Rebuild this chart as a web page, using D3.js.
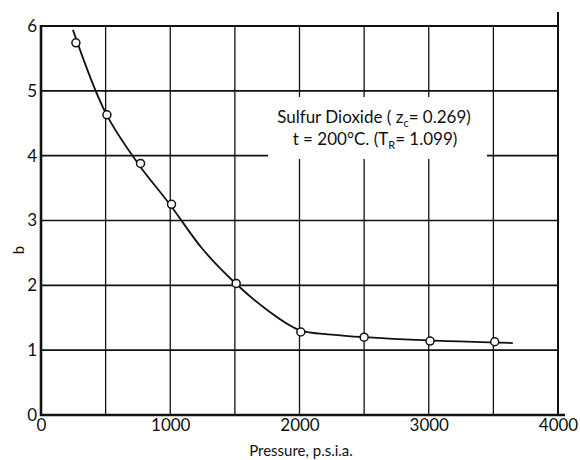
<!DOCTYPE html>
<html>
<head>
<meta charset="utf-8">
<script src="https://cdn.jsdelivr.net/npm/d3@7"></script>
<style>
  body { margin: 0; background: #fff; }
  text { font-family: Lato, "DejaVu Sans", sans-serif; fill: #111; }
</style>
</head>
<body>
<div id="chart"></div>
<script>
// measured points, Sulfur Dioxide at 200 C
const pressure = [270, 510, 770, 1010, 1510, 2010, 2500, 3010, 3510];
const bValues = [5.74, 4.63, 3.88, 3.25, 2.03, 1.28, 1.20, 1.14, 1.13];

// smoothed curve drawn through them
const curveP = [247, 500, 750, 1000, 1250, 1500, 1750, 2000, 2250, 2500, 3000, 3500, 3650];
const curveB = [5.94, 4.66, 3.88, 3.24, 2.56, 2.04, 1.62, 1.31, 1.24, 1.20, 1.15, 1.12, 1.11];

const xGrid = [500, 1000, 1500, 2000, 2500, 3000, 3500];
const xLabels = [0, 1000, 2000, 3000, 4000];
const yTicks = [0, 1, 2, 3, 4, 5, 6];

const W = 580, H = 460;
const mLeft = 41, mRight = 558, mTop = 26, mBottom = 415;

const svg = d3.select('#chart').append('svg')
    .attr('width', W).attr('height', H);

const x = d3.scaleLinear().domain([0, 4000]).range([mLeft, mRight]);
const y = d3.scaleLinear().domain([0, 6]).range([mBottom, mTop]);

// grid
svg.append('g')
    .selectAll('line')
    .data(xGrid)
    .join('line')
    .attr('x1', d => x(d)).attr('x2', d => x(d))
    .attr('y1', y(6)).attr('y2', y(0))
    .attr('stroke', '#111').attr('stroke-width', 1.3);
svg.append('g')
    .selectAll('line')
    .data(yTicks.filter(d => d > 0 && d < 6))
    .join('line')
    .attr('x1', x(0)).attr('x2', x(4000))
    .attr('y1', d => y(d)).attr('y2', d => y(d))
    .attr('stroke', '#111').attr('stroke-width', 1.6);

// frame
svg.append('line').attr('x1', x(0)).attr('x2', x(4000))
    .attr('y1', y(6)).attr('y2', y(6))
    .attr('stroke', '#111').attr('stroke-width', 2);
svg.append('line').attr('x1', x(4000)).attr('x2', x(4000))
    .attr('y1', y(6) - 14).attr('y2', y(0))
    .attr('stroke', '#111').attr('stroke-width', 2);
svg.append('line').attr('x1', x(0)).attr('x2', x(0))
    .attr('y1', y(6) - 1).attr('y2', y(0) + 1)
    .attr('stroke', '#111').attr('stroke-width', 2.6);
svg.append('line').attr('x1', x(0) - 1).attr('x2', x(4000) + 7)
    .attr('y1', y(0)).attr('y2', y(0))
    .attr('stroke', '#111').attr('stroke-width', 2.6);

// tick labels
const xAxis = svg.append('g')
    .attr('transform', `translate(0,${mBottom})`)
    .call(d3.axisBottom(x).tickValues(xLabels).tickFormat(d3.format('d')).tickSize(0).tickPadding(4));
xAxis.select('.domain').remove();
xAxis.selectAll('text').attr('font-size', 17).style('font-family', 'Lato, sans-serif').attr('fill', '#111');

const yAxis = svg.append('g')
    .attr('transform', `translate(${mLeft},0)`)
    .call(d3.axisLeft(y).tickValues(yTicks).tickFormat(d3.format('d')).tickSize(0).tickPadding(4));
yAxis.select('.domain').remove();
yAxis.selectAll('text').attr('font-size', 17).style('font-family', 'Lato, sans-serif').attr('fill', '#111');

// axis titles
svg.append('text')
    .attr('x', 301).attr('y', 456)
    .attr('text-anchor', 'middle')
    .attr('font-size', 15)
    .text('Pressure, p.s.i.a.');
svg.append('text')
    .attr('transform', 'translate(24,250) rotate(-90)')
    .attr('text-anchor', 'middle')
    .attr('font-size', 15)
    .text('b');

// annotation
svg.append('rect')
    .attr('x', 268).attr('y', 97).attr('width', 219).attr('height', 62)
    .attr('fill', '#fff');
const t1 = svg.append('text')
    .attr('x', 374).attr('y', 123)
    .attr('text-anchor', 'middle')
    .attr('font-size', 17);
t1.append('tspan').text('Sulfur Dioxide ( z');
t1.append('tspan').attr('font-size', 11).attr('dy', 4).text('c');
t1.append('tspan').attr('dy', -4).text('= 0.269)');
const t2 = svg.append('text')
    .attr('x', 375).attr('y', 145)
    .attr('text-anchor', 'middle')
    .attr('font-size', 17);
t2.append('tspan').text('t = 200°C. (T');
t2.append('tspan').attr('font-size', 11).attr('dy', 4).text('R');
t2.append('tspan').attr('dy', -4).text('= 1.099)');

// curve
const curveData = curveP.map((p, i) => ({p: p, b: curveB[i]}));
svg.append('path')
    .datum(curveData)
    .attr('d', d3.line().x(d => x(d.p)).y(d => y(d.b)).curve(d3.curveCatmullRom))
    .attr('fill', 'none')
    .attr('stroke', '#111')
    .attr('stroke-width', 1.8);

// points
svg.selectAll('circle')
    .data(pressure)
    .join('circle')
    .attr('cx', (d, i) => x(d))
    .attr('cy', (d, i) => y(bValues[i]))
    .attr('r', 4)
    .attr('fill', '#fff')
    .attr('stroke', '#111')
    .attr('stroke-width', 1.5);
</script>
</body>
</html>
